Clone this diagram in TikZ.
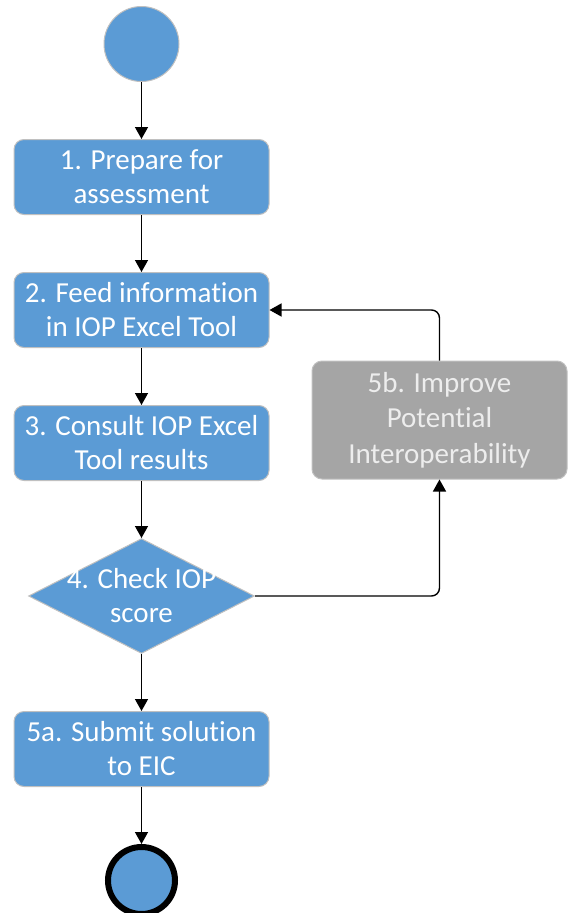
\documentclass[tikz,border=0pt]{standalone}
\usepackage{fontspec}
\setmainfont{Carlito}[Ligatures={NoCommon}]
\usepackage{tikz}
\usetikzlibrary{positioning}
\usetikzlibrary{shapes.geometric}
\usetikzlibrary{arrows.meta}
\usepackage{xcolor}

\definecolor{stepblue}{HTML}{5B9BD5}
\definecolor{stepgray}{HTML}{A5A5A5}
\definecolor{edgegray}{HTML}{C0C0C0}

\begin{document}
\begin{tikzpicture}[
		x=1pt, y=1pt,
		% Style definitions
		stepbox/.style={draw=edgegray, line width=1pt, rounded corners=10pt, minimum width=255pt, minimum height=75pt, fill=stepblue, align=center, text=white, font=\fontsize{29}{34}\selectfont},
		altbox/.style={stepbox, fill=stepgray, minimum height=118pt, text=white!93!black, font=\fontsize{29}{35.5}\selectfont},
		decision/.style={diamond, draw=edgegray, line width=1pt, fill=stepblue, minimum width=226pt, minimum height=115pt, aspect=1.965, inner sep=0pt},
		startnode/.style={circle, draw=edgegray, line width=1pt, fill=stepblue, minimum size=75pt, inner sep=0pt},
		endnode/.style={circle, draw=black, line width=6pt, fill=stepblue, minimum size=67pt, inner sep=0pt},
		arrow/.style={-{Triangle[length=12pt, width=13pt]}, line width=1.4pt},
		node distance=57pt,
		]
		\useasboundingbox (0,0) rectangle (568,-913);

		% === Main column ===
		\node[startnode] (start) at (141.5,-44) {};
		\node[stepbox, below=of start] (prepare) {1. Prepare for\\assessment};
		\node[stepbox, below=of prepare] (feed) {2. Feed information\\in IOP Excel Tool};
		\node[stepbox, below=of feed] (consult) {3. Consult IOP Excel\\Tool results};
		\node[decision, below=of consult, label={[text=white, align=center, font=\fontsize{29}{34}\selectfont]center:4. Check IOP\\score}] (check) {};
		\node[stepbox, below=of check] (submit) {5a. Submit solution\\to EIC};
		\node[endnode, below=of submit] (finish) {};

		% === Side branch ===
		\node[altbox] (improve) at (439.5,-420) {5b. Improve\\Potential\\Interoperability};

		% === Connections ===
		\draw[arrow] (start) -- (prepare);
		\draw[arrow] (prepare) -- (feed);
		\draw[arrow] (feed) -- (consult);
		\draw[arrow] (consult) -- (check);
		\draw[arrow] (check) -- (submit);
		\draw[arrow] (submit) -- (finish);
		\draw[arrow, rounded corners=8pt] (check.east) -| (improve.south);
		\draw[arrow, rounded corners=8pt] (improve.north) |- (feed.east);

	\end{tikzpicture}
\end{document}
